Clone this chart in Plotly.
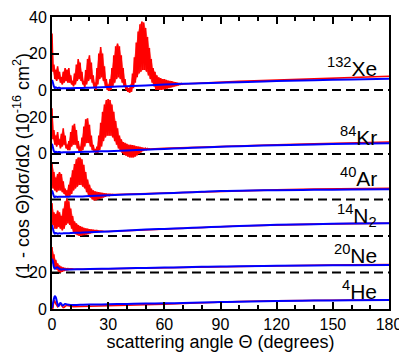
import plotly.graph_objects as go

# stacking offsets of each panel (same units as the y axis)
gases = ["Xe", "Kr", "Ar", "N2", "Ne", "He"]
offsets = [120, 85, 60, 40, 20, 0]

# quantum result (red): fast oscillation given as upper / lower value for each degree 0,1,2,...
xe_hi = [31, 14, 11, 13, 10, 7, 10, 12, 11, 12, 8, 5, 9, 14, 17, 15, 10, 5, 11, 17,
         19, 15, 8, 4, 12, 20, 23.5, 20, 13, 6, 3, 6, 12, 19, 24, 25.5, 24, 19, 12, 6,
         2, 1, 3, 9, 18, 26, 32, 36, 37.5, 37, 34, 29, 23, 17, 12, 10, 8, 7, 6.5, 6,
         6, 5.5, 5.2, 5, 4.8, 4.5, 4.3, 4, 3.8, 3.6, 3.4]
xe_lo = [10, 6, 5, 6, 4, 3, 4, 5, 4, 4, 3, 2, 3, 5, 6, 5, 3, 1.5, 3, 5,
         6, 4, 1, 0, 3, 6, 7, 5, 2, 0, -0.5, 0, 2, 4, 6, 7, 6, 4, 2, 0,
         -1, -1.5, -1, 1, 4, 7, 9, 10, 11, 11, 10, 8, 6, 4, 2, 0, 0, 0, 0, 0.3,
         0.5, 0.8, 1, 1.3, 1.6, 1.9, 2.2, 2.5, 2.8, 3.1, 3.3]
xe_tail_ang = [75, 80, 90, 100, 120, 140, 160, 180]
xe_tail = [3.6, 3.9, 4.3, 4.7, 5.4, 6.1, 6.8, 7.5]

kr_hi = [25, 13, 10, 12, 8, 11, 14, 10, 5, 7, 12, 15.5, 16.5, 13, 7, 4, 9, 15, 19, 19.5,
         16, 10, 5, 2.5, 4, 10, 17, 23, 27, 29.5, 30, 29.5, 27, 23, 18, 14, 10, 8, 6.5, 6,
         5.5, 5, 5, 4.8, 4.5, 4.2, 4, 3.8, 3.5, 3.2, 3, 2.9, 2.8]
kr_lo = [8, 5, 4, 5, 3, 4, 5, 3, 2, 2, 4, 5, 5, 3, 1.5, 1.5, 2, 4, 6, 6,
         4, 2, 1, 0.5, 0.5, 2, 4, 7, 9, 10, 10, 10, 9, 7, 5, 3, 1.5, 0.5, -0.5, -1,
         -1.5, -2, -2, -2, -1.5, -0.8, 0, 0.8, 1.5, 2, 2.4, 2.6, 2.7]
kr_tail_ang = [60, 70, 80, 90, 100, 120, 140, 160, 180]
kr_tail = [3.0, 3.4, 3.8, 4.2, 4.5, 5.0, 5.5, 6.0, 6.5]

ar_hi = [20, 15, 12, 14, 15, 14, 10, 6, 5, 8, 12, 16, 19.5, 22, 23, 23, 22, 19, 15, 11,
         8, 6, 5, 4.5, 4.2, 4, 3.8, 3.6, 3.4, 3.2, 3, 2.9, 2.8, 2.7]
ar_lo = [6, 5, 4, 5, 5, 4, 3, 2, 1.5, 2, 3, 5, 6, 7, 8, 8, 7, 6, 4, 2.5,
         1, 0, -0.5, -0.5, 0, 0.3, 0.7, 1.1, 1.5, 1.9, 2.2, 2.4, 2.6, 2.7]
ar_tail_ang = [40, 50, 60, 70, 80, 90, 100, 120, 140, 160, 180]
ar_tail = [2.9, 3.1, 3.4, 3.8, 4.2, 4.6, 4.9, 5.3, 5.7, 6.0, 6.2]

n2_hi = [18, 13, 12, 14, 13, 11, 15, 19, 20.5, 19, 15, 11, 8, 7, 6, 5.5, 5, 4.5, 4.2, 4,
         3.8, 3.6, 3.4, 3.2, 3, 2.8, 2.7, 2.6]
n2_lo = [6, 4, 4, 5, 4, 3, 4, 6, 7, 6, 4, 2, 1, 0.5, 0, 0, 0.3, 0.5, 0.8, 1.1,
         1.4, 1.7, 2, 2.2, 2.4, 2.5, 2.6, 2.6]
n2_tail_ang = [30, 40, 50, 60, 70, 80, 90, 100, 120, 140, 160, 180]
n2_tail = [2.5, 3.0, 3.5, 3.9, 4.3, 4.7, 5.1, 5.5, 6.1, 6.5, 6.8, 7.0]

ne_hi = [14, 10, 7, 5, 3.8, 3.2, 2.8, 2.5, 2.3, 2.1, 2.0, 1.9]
ne_lo = [5, 3, 1.5, 0.5, 0, 0.4, 0.8, 1.2, 1.5, 1.8, 1.9, 1.9]
ne_tail_ang = [15, 20, 30, 40, 50, 60, 70, 80, 90, 100, 120, 140, 160, 180]
ne_tail = [1.8, 1.9, 2.1, 2.3, 2.5, 2.7, 2.9, 3.1, 3.3, 3.5, 3.8, 4.0, 4.2, 4.3]

he_hi = [0, 4.7, 3, 1.3, 3, 2, 0.8, 1.6, 2, 1.6, 1.3, 1.3]
he_lo = [0.5, 4.2, 2.2, 1.8, 2.8, 1.4, 1.0, 1.8, 1.9, 1.5, 1.3, 1.3]
he_tail_ang = [15, 20, 30, 40, 50, 60, 70, 80, 90, 100, 120, 140, 160, 180]
he_tail = [1.4, 1.5, 1.6, 1.9, 2.2, 2.6, 3.0, 3.4, 3.8, 4.1, 4.5, 4.8, 5.0, 5.1]

# classical result (blue), shared angle grid
blue_ang = [0, 0.5, 1, 1.5, 2, 2.5, 3, 3.5, 4, 4.5, 5, 5.5, 6, 7, 8, 10, 15, 20, 30,
            40, 50, 60, 70, 80, 90, 100, 120, 140, 160, 180]
xe_blue = [5.5, 4, 2, 1, 1.5, 1.2, 1.0, 1.2, 1.2, 1.0, 0.9, 0.9, 1.0, 1.0, 1.0, 1.0, 1.1,
           1.3, 1.7, 2.1, 2.5, 3.0, 3.4, 3.7, 4.0, 4.3, 4.9, 5.4, 5.8, 6.2]
kr_blue = [5.5, 3.5, 1.5, 0.8, 1.2, 1.0, 0.8, 1.0, 1.0, 0.9, 0.8, 0.8, 0.9, 0.9, 0.9, 0.9, 1.0,
           1.2, 1.5, 1.9, 2.3, 2.7, 3.1, 3.5, 3.9, 4.2, 4.7, 5.2, 5.5, 5.8]
ar_blue = [5, 3.5, 1.8, 1.2, 1.6, 1.5, 1.4, 1.5, 1.5, 1.5, 1.5, 1.5, 1.5, 1.5, 1.5, 1.6, 1.7,
           1.9, 2.3, 2.7, 3.0, 3.4, 3.8, 4.2, 4.6, 4.8, 5.1, 5.3, 5.5, 5.6]
n2_blue = [6, 4, 2, 1.2, 1.6, 1.5, 1.3, 1.4, 1.5, 1.4, 1.4, 1.4, 1.5, 1.5, 1.5, 1.6, 1.8,
           2.0, 2.5, 3.0, 3.5, 3.9, 4.3, 4.7, 5.1, 5.5, 6.1, 6.5, 6.8, 7.0]
ne_blue = [7.5, 6, 3, 2, 2.5, 2.8, 2.8, 2.4, 2, 1.8, 1.7, 1.7, 1.8, 1.7, 1.7, 1.7, 1.8,
           1.9, 2.1, 2.3, 2.5, 2.7, 2.9, 3.1, 3.3, 3.4, 3.7, 3.9, 4.0, 4.1]
he_blue = [0.5, 3, 5.5, 7, 6.5, 4.5, 2.5, 1.5, 2.5, 3.3, 2.8, 2, 2, 2.8, 2.5, 2.2, 2.3,
           2.4, 2.6, 2.8, 3.0, 3.1, 3.3, 3.6, 3.8, 4.0, 4.4, 4.6, 4.8, 4.9]

red_hi = [xe_hi, kr_hi, ar_hi, n2_hi, ne_hi, he_hi]
red_lo = [xe_lo, kr_lo, ar_lo, n2_lo, ne_lo, he_lo]
tail_ang = [xe_tail_ang, kr_tail_ang, ar_tail_ang, n2_tail_ang, ne_tail_ang, he_tail_ang]
tail_val = [xe_tail, kr_tail, ar_tail, n2_tail, ne_tail, he_tail]
blue_val = [xe_blue, kr_blue, ar_blue, n2_blue, ne_blue, he_blue]

labels = ["<sup>132</sup>Xe", "<sup>84</sup>Kr", "<sup>40</sup>Ar",
          "<sup>14</sup>N<sub>2</sub>", "<sup>20</sup>Ne", "<sup>4</sup>He"]
label_y = [132.5, 95, 72.5, 51.5, 30, 10.5]

y_tickvals = [0, 20, 80, 85, 105, 120, 140, 160]
y_ticktext = ["0", "20", "", "0", "20", "0", "20", "40"]

FONT = "Liberation Sans, Arial, Helvetica, sans-serif"

fig = go.Figure()

# dashed zero lines of the shifted panels
for off in offsets[:-1]:
    fig.add_trace(go.Scatter(x=[0, 180], y=[off, off], mode="lines",
                             line=dict(color="black", width=2, dash="9px,5px"),
                             hoverinfo="skip"))

for k in range(len(gases)):
    off = offsets[k]
    hi, lo = red_hi[k], red_lo[k]
    n = len(hi)
    # band between the upper and lower values
    bx = list(range(n)) + [i + 0.5 for i in range(n)][::-1]
    by = [h + off for h in hi] + [l + off for l in lo][::-1]
    fig.add_trace(go.Scatter(x=bx, y=by, mode="lines", fill="toself",
                             fillcolor="rgba(255,0,0,0.6)", line=dict(width=0),
                             hoverinfo="skip"))
    xs, ys = [], []
    for i, (h, l) in enumerate(zip(hi, lo)):
        xs += [i, i + 0.5]
        ys += [h + off, l + off]
    xs += tail_ang[k]
    ys += [v + off for v in tail_val[k]]
    fig.add_trace(go.Scatter(x=xs, y=ys, mode="lines", name=gases[k] + " quantum",
                             line=dict(color="#ff0000", width=1.6)))

for k in range(len(gases)):
    off = offsets[k]
    fig.add_trace(go.Scatter(x=blue_ang, y=[v + off for v in blue_val[k]], mode="lines",
                             name=gases[k] + " classical",
                             line=dict(color="#0000ff", width=2, shape="spline")))

for txt, ly in zip(labels, label_y):
    fig.add_annotation(x=174.5, y=ly, xref="x", yref="y", text=txt, showarrow=False,
                       xanchor="right", yanchor="middle",
                       font=dict(size=21, color="black", family=FONT))

# y axis title, placed as rotated text left of the tick labels
fig.add_annotation(x=-0.089, y=0.49, xref="paper", yref="paper", textangle=-90,
                   text="(1 - cos Θ)dσ/dΩ (10<sup>-16</sup> cm<sup>2</sup>)",
                   showarrow=False, xanchor="center", yanchor="middle",
                   font=dict(size=18, color="black", family=FONT))

# the page body adds an 8px margin, so the figure itself is 8px smaller each way
fig.update_layout(
    width=399, height=344,
    margin=dict(l=44, r=18, t=9, b=43),
    paper_bgcolor="white", plot_bgcolor="white",
    showlegend=False,
    font=dict(family=FONT, color="black"),
    xaxis=dict(
        range=[0, 180], tickvals=[0, 30, 60, 90, 120, 150, 180],
        ticks="inside", ticklen=7, tickwidth=1.5, tickcolor="black",
        minor=dict(dtick=10, ticks="inside", ticklen=4, tickwidth=1.5, tickcolor="black"),
        showline=True, linewidth=2, linecolor="black", mirror="ticks",
        showgrid=False, zeroline=False, automargin=False,
        tickfont=dict(size=16),
        title=dict(text="scattering angle Θ (degrees)", font=dict(size=18), standoff=2),
    ),
    yaxis=dict(
        range=[0, 160], tickvals=y_tickvals, ticktext=y_ticktext,
        ticks="inside", ticklen=7, tickwidth=1.5, tickcolor="black",
        showline=True, linewidth=2, linecolor="black", mirror=True,
        showgrid=False, zeroline=False, automargin=False,
        tickfont=dict(size=16),
    ),
)

fig.write_html("out.html")
